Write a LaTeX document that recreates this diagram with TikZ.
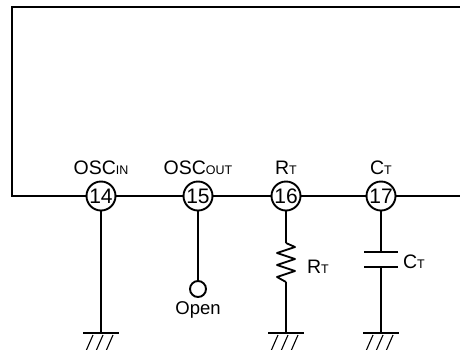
\documentclass[tikz,border=0pt]{standalone}
\usepackage{fontspec}
\setmainfont{Liberation Sans}
\usepackage{tikz}
\usetikzlibrary{positioning, calc}
\newcommand{\lowsub}[1]{{\fontsize{12.5}{12.5}\selectfont #1}}
\tikzset{
  pinc/.style={circle, draw, line width=1.9pt, fill=white, minimum size=29pt, inner sep=0pt, font=\fontsize{21}{21}\selectfont},
  pinlbl/.style={font=\fontsize{19.5}{19.5}\selectfont, inner sep=1pt},
  wire/.style={line width=1.1pt},
  gndbar/.style={line width=2.7pt},
}
\newcommand{\gnd}[1]{%
  \draw[gndbar] ($(#1)+(-18,0)$) -- ($(#1)+(18,0)$);
  \foreach \dx in {-8,2,12}
    \draw[wire] ($(#1)+(\dx,2)$) -- ($(#1)+(\dx-7,18)$);
}

\begin{document}
\begin{tikzpicture}[x=1pt, y=-1pt]
    \useasboundingbox (0,0) rectangle (460,349);

    % IC outline
    \draw[line width=2.7pt] (462,7) -- (12,7) -- (12,196) -- (462,196);

    % Pins
    \node[pinc] (p14) at (101,196) {14};
    \node[pinc] (p15) at (198,196) {15};
    \node[pinc] (p16) at (286,196) {16};
    \node[pinc] (p17) at (381,196) {17};
    \node[pinlbl, above=5pt of p14] {OSC\lowsub{IN}};
    \node[pinlbl, above=5pt of p15] {OSC\lowsub{OUT}};
    \node[pinlbl, above=5pt of p16] {R\lowsub{T}};
    \node[pinlbl, above=5pt of p17] {C\lowsub{T}};

    % Ground points
    \coordinate (g14) at (101,333);
    \coordinate (g16) at (286,333);
    \coordinate (g17) at (381,333);

    % OSC_IN to ground
    \draw[wire] (p14) -- (g14);
    \gnd{g14}

    % OSC_OUT left open
    \node[circle, draw, line width=1.9pt, minimum size=16pt, inner sep=0pt] (open) at (198,289) {};
    \node[pinlbl, font=\fontsize{18.5}{18.5}\selectfont, below=2pt of open] {Open};
    \draw[wire] (p15) -- (open);

    % Timing resistor
    \coordinate (r1) at (286,243);
    \coordinate (r2) at (286,282);
    \draw[wire] (p16) -- (r1);
    \draw[line width=1.8pt, line join=round] (r1) -- ++(9,4) -- ++(-18,6) -- ++(18,6) -- ++(-18,6)
        -- ++(18,6) -- ++(-18,6) -- (r2);
    \draw[wire] (r2) -- (g16);
    \node[pinlbl] at (318,267) {R\lowsub{T}};
    \gnd{g16}

    % Timing capacitor
    \coordinate (c1) at (381,252);
    \coordinate (c2) at (381,267);
    \draw[wire] (p17) -- (c1);
    \draw[gndbar] ($(c1)+(-17,0)$) -- ($(c1)+(17,0)$);
    \draw[gndbar] ($(c2)+(-17,0)$) -- ($(c2)+(17,0)$);
    \draw[wire] (c2) -- (g17);
    \node[pinlbl] at (414,262) {C\lowsub{T}};
    \gnd{g17}
\end{tikzpicture}
\end{document}
